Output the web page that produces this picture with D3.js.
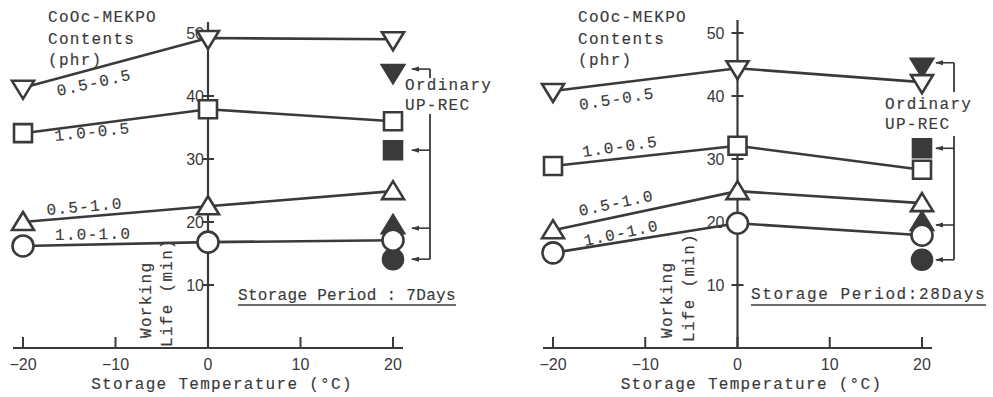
<!DOCTYPE html>
<html><head><meta charset="utf-8">
<script src="https://cdn.jsdelivr.net/npm/d3@7"></script>
<style>
html,body{margin:0;padding:0;background:#fff;}
svg{display:block;}
.mono{font-family:"Liberation Mono","Courier New",monospace;font-size:16px;letter-spacing:1.3px;fill:#3a3a3a;stroke:#3a3a3a;stroke-width:0.15px;}
.num{font-family:"Liberation Sans",Arial,sans-serif;font-size:16px;fill:#3a3a3a;}
</style></head>
<body>
<svg id="chart" width="993" height="397"></svg>
<script>
// ---- data ----
const temps = [-20, 0, 20];
const seriesNames = ["0.5-0.5", "1.0-0.5", "0.5-1.0", "1.0-1.0"];
const seriesShapes = ["triDown", "square", "triUp", "circle"];
const xTicks = [-20, -10, 0, 10, 20];
const yTicks = [10, 20, 30, 40, 50];
// 7 days storage
const d7_0505 = [41.3, 49.2, 49.0];
const d7_1005 = [34.1, 37.9, 36.0];
const d7_0510 = [20.0, 22.5, 24.9];
const d7_1010 = [16.2, 16.8, 17.1];
const d7_ordinary = [43.8, 31.4, 19.5, 14.1]; // at 20°C, order as seriesNames
// 28 days storage
const d28_0505 = [40.8, 44.4, 42.2];
const d28_1005 = [28.9, 32.1, 28.3];
const d28_0510 = [18.7, 24.9, 23.0];
const d28_1010 = [15.1, 19.8, 17.9];
const d28_ordinary = [44.8, 31.7, 20.0, 14.0];
const periodLabels = ["Storage Period : 7Days", "Storage Period:28Days"];

const ink = "#3a3a3a";
const svg = d3.select("#chart");

const panels = [
  {x0:23, x1:393, series:[d7_0505,d7_1005,d7_0510,d7_1010], ord:d7_ordinary, period:periodLabels[0],
   bracketX:430, ordText:[405,86,106], gap:[78,114], tickLabelGap:4,
   periodX:238, periodY:300, periodSpacing:0.3, ulY:305, ulEnd:456, workX:[147,168], workY:[338,347],
   labels:[[58,96,-12.5],[55,141,-6],[47,215,-5],[55,240,-1]], axisTop:22},
  {x0:553, x1:922, series:[d28_0505,d28_1005,d28_0510,d28_1010], ord:d28_ordinary, period:periodLabels[1],
   bracketX:954, ordText:[885,105,125], gap:[92,136], tickLabelGap:13,
   periodX:751, periodY:299, periodSpacing:1.6, ulY:305, ulEnd:986, workX:[668,690], workY:[338,342],
   labels:[[580,110,-9],[583,157,-8],[580,216,-12],[585,246,-12]], axisTop:20}
];

function shapePath(shape){
  if(shape==="triDown") return "M-11,-7L11,-7L0,11Z";
  if(shape==="triUp") return "M0,-10L11,8L-11,8Z";
  if(shape==="square") return "M-9,-9L9,-9L9,9L-9,9Z";
  return null;
}
function drawMarker(g, shape, cx, cy, filled){
  const fill = filled ? ink : "#fff";
  if(shape==="circle"){
    g.append("circle").attr("cx",cx).attr("cy",cy).attr("r",filled?10:10.5)
      .attr("fill",fill).attr("stroke",ink).attr("stroke-width",2.6);
  } else {
    g.append("path").attr("d",shapePath(shape)).attr("transform",`translate(${cx},${cy})`)
      .attr("fill",fill).attr("stroke",ink).attr("stroke-width",2.6).attr("stroke-linejoin","miter");
  }
}

panels.forEach(p=>{
  const x = d3.scaleLinear().domain([-20,20]).range([p.x0,p.x1]);
  const y = d3.scaleLinear().domain([0,50]).range([348,33]);
  const g = svg.append("g");
  const x0 = x(0);

  // x axis
  g.append("line").attr("x1",p.x0-10).attr("x2",p.x1+10).attr("y1",y(0)).attr("y2",y(0))
    .attr("stroke",ink).attr("stroke-width",2.2);
  xTicks.forEach(t=>{
    g.append("line").attr("x1",x(t)).attr("x2",x(t)).attr("y1",y(0)).attr("y2",y(0)-11)
      .attr("stroke",ink).attr("stroke-width",2);
    g.append("text").attr("class","num").attr("x",x(t)).attr("y",y(0)+16)
      .attr("text-anchor","middle").attr("dominant-baseline","central")
      .text(t<0 ? "\u2212"+Math.abs(t) : t);
  });
  g.append("text").attr("class","mono").attr("x",(p.x0+p.x1)/2+14).attr("y",385)
    .attr("text-anchor","middle").attr("dominant-baseline","central").text("Storage Temperature (\u00B0C)");

  // y axis
  g.append("line").attr("x1",x0).attr("x2",x0).attr("y1",y(0)).attr("y2",p.axisTop)
    .attr("stroke",ink).attr("stroke-width",2.2);
  yTicks.forEach(t=>{
    g.append("line").attr("x1",x0-6).attr("x2",x0+6).attr("y1",y(t)).attr("y2",y(t))
      .attr("stroke",ink).attr("stroke-width",2);
    g.append("text").attr("class","num").attr("x",x0-p.tickLabelGap).attr("y",y(t))
      .attr("text-anchor","end").attr("dominant-baseline","central").text(t);
  });
  // y title (two rotated lines)
  g.append("text").attr("class","mono").attr("transform",`translate(${p.workX[0]},${p.workY[0]}) rotate(-90)`)
    .attr("dominant-baseline","central").text("Working");
  g.append("text").attr("class","mono").attr("transform",`translate(${p.workX[1]},${p.workY[1]}) rotate(-90)`)
    .attr("dominant-baseline","central").text("Life (min)");

  // legend title
  const lt = g.append("text").attr("class","mono");
  ["CoOc-MEKPO","Contents","(phr)"].forEach((s,i)=>{
    lt.append("tspan").attr("x",p.x0+25).attr("y",22+i*21.5).text(s);
  });

  // bracket for ordinary UP-REC
  const bx = p.bracketX;
  const yTop = y(p.ord[0])-3, yBot = y(p.ord[3]);
  g.append("line").attr("x1",bx).attr("x2",bx).attr("y1",yTop).attr("y2",p.gap[0]).attr("stroke",ink).attr("stroke-width",1.8);
  g.append("line").attr("x1",bx).attr("x2",bx).attr("y1",p.gap[1]).attr("y2",yBot).attr("stroke",ink).attr("stroke-width",1.8);
  p.ord.forEach((v,i)=>{
    const yy = i===0 ? yTop : (i===3 ? yBot : y(v)+ (i===2 ? 3 : 0));
    g.append("line").attr("x1",bx-18).attr("x2",bx).attr("y1",yy).attr("y2",yy).attr("stroke",ink).attr("stroke-width",1.6);
    g.append("path").attr("d",`M${bx-19},${yy}L${bx-11},${yy-2.5}L${bx-11},${yy+2.5}Z`).attr("fill",ink);
  });
  g.append("text").attr("class","mono").attr("x",p.ordText[0]).attr("y",p.ordText[1]).attr("dominant-baseline","central").text("Ordinary");
  g.append("text").attr("class","mono").attr("x",p.ordText[0]).attr("y",p.ordText[2]).attr("dominant-baseline","central").text("UP-REC");

  // filled (ordinary) markers first, so open ones overlay
  p.ord.forEach((v,i)=>drawMarker(g, seriesShapes[i], x(20), y(v), true));

  // series lines and markers
  const line = d3.line().x((d,i)=>x(temps[i])).y(d=>y(d));
  p.series.forEach((vals,si)=>{
    g.append("path").attr("d",line(vals)).attr("fill","none").attr("stroke",ink).attr("stroke-width",2.6);
  });
  p.series.forEach((vals,si)=>{
    vals.forEach((v,i)=>drawMarker(g, seriesShapes[si], x(temps[i]), y(v), false));
  });
  // series labels
  seriesNames.forEach((n,i)=>{
    const L = p.labels[i];
    g.append("text").attr("class","mono").attr("transform",`translate(${L[0]},${L[1]}) rotate(${L[2]})`).text(n);
  });

  // storage period
  g.append("text").attr("class","mono").attr("x",p.periodX).attr("y",p.periodY)
    .style("letter-spacing",p.periodSpacing+"px").text(p.period);
  g.append("line").attr("x1",p.periodX).attr("x2",p.ulEnd).attr("y1",p.ulY).attr("y2",p.ulY).attr("stroke",ink).attr("stroke-width",1.6);
});
</script>
</body></html>
